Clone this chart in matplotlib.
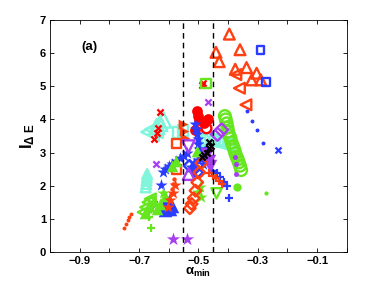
import matplotlib
matplotlib.use('Agg')
import matplotlib.pyplot as plt

plt.rcParams['font.family'] = ['Liberation Sans', 'DejaVu Sans']
plt.rcParams['mathtext.fontset'] = 'custom'
plt.rcParams['mathtext.rm'] = 'Liberation Sans:bold'
plt.rcParams['mathtext.bf'] = 'Liberation Sans:bold'
plt.rcParams['mathtext.it'] = 'Liberation Sans:bold'

# Colours used by the series
ORANGE = '#ff4012'
RED = '#ff0000'
BLUE = '#2a3cff'
GREEN = '#66e61e'
CYAN = '#80f5dc'
PURPLE = '#a63ef0'
BLACK = '#000000'

# Dashed threshold lines
alpha_lo = -0.552
alpha_hi = -0.452

# Series: (x values, y values, marker, colour, size, filled)
tri_up_orange_x = [-0.396, -0.441, -0.360, -0.430, -0.376, -0.338, -0.304, -0.321, -0.290]
tri_up_orange_y = [6.57, 6.02, 6.10, 5.74, 5.51, 5.56, 5.39, 5.19, 5.19]

tri_left_orange_x = [-0.374, -0.362, -0.340]
tri_left_orange_y = [5.35, 4.94, 4.44]

sq_blue_x = [-0.291, -0.273]
sq_blue_y = [6.10, 5.13]

dot_blue_x = [-0.338, -0.321, -0.302, -0.284]
dot_blue_y = [4.24, 3.96, 3.68, 3.28]

x_blue_x = [-0.233]
x_blue_y = [3.09]

circ_green_x = [-0.411, -0.408, -0.405, -0.402, -0.400, -0.396, -0.392, -0.388, -0.383, -0.379,
                -0.376, -0.372, -0.368, -0.364, -0.360, -0.356]
circ_green_y = [4.10, 4.00, 3.88, 3.75, 3.63, 3.52, 3.43, 3.30, 3.18, 3.08, 2.98, 2.88, 2.80,
                2.70, 2.60, 2.47]

dotc_green_x = [-0.371]
dotc_green_y = [1.97]

circ_cyan_x = [-0.482, -0.470, -0.458, -0.446, -0.434, -0.422, -0.410, -0.398, -0.390]
circ_cyan_y = [3.36, 3.40, 3.42, 3.38, 3.35, 3.33, 3.30, 3.27, 3.25]

tri_left_cyan_x = [-0.663, -0.650]
tri_left_cyan_y = [3.62, 3.70]
tri_up_cyan_x = [-0.641, -0.630, -0.618]
tri_up_cyan_y = [3.78, 3.88, 3.98]
sq_cyan_x = [-0.568, -0.553]
sq_cyan_y = [3.60, 3.66]
tri_cyan_col_x = [-0.678, -0.676, -0.675, -0.674, -0.673]
tri_cyan_col_y = [1.95, 2.05, 2.15, 2.25, 2.35]

circf_red_x = [-0.506, -0.503, -0.497, -0.467, -0.512, -0.480]
circf_red_y = [4.24, 4.10, 3.98, 4.01, 3.68, 3.90]
circo_red_x = [-0.473]
circo_red_y = [3.73]

x_red_x = [-0.630, -0.641, -0.649, -0.636, -0.489, -0.485]
x_red_y = [4.21, 3.60, 3.40, 3.75, 5.04, 5.10]

sq_green_x = [-0.475]
sq_green_y = [5.09]

x_purple_x = [-0.467, -0.643, -0.660]
x_purple_y = [4.53, 2.65, 1.30]

sq_orange_x = [-0.574, -0.573]
sq_orange_y = [3.28, 2.49]

tri_right_orange_x = [-0.553, -0.548, -0.545]
tri_right_orange_y = [3.85, 3.65, 3.45]

tri_down_purple_x = [-0.534]
tri_down_purple_y = [3.18]
tri_up_purple_x = [-0.533]
tri_up_purple_y = [2.35]
dia_purple_x = [-0.422, -0.436]
dia_purple_y = [3.68, 3.55]
tri_down_purple_f_x = [-0.472, -0.466, -0.460]
tri_down_purple_f_y = [2.95, 2.75, 2.60]

star_blue_x = [-0.626, -0.621, -0.612, -0.600, -0.588, -0.575, -0.562, -0.550, -0.538,
               -0.510, -0.507, -0.505, -0.503, -0.500, -0.497, -0.493, -0.490, -0.486,
               -0.525, -0.515, -0.500, -0.488, -0.480, -0.474]
star_blue_y = [2.02, 2.42, 2.50, 2.58, 2.66, 2.74, 2.82, 2.90, 2.98,
               3.85, 3.70, 3.55, 3.40, 3.25, 3.10, 2.95, 2.80, 2.65,
               2.55, 2.68, 2.78, 2.90, 3.02, 3.12]

tri_blue_x = [-0.618, -0.608, -0.600, -0.612, -0.595, -0.590]
tri_blue_y = [1.35, 1.45, 1.55, 1.28, 1.30, 1.40]

plus_blue_x = [-0.439, -0.428, -0.415, -0.405, -0.398, -0.455, -0.650, -0.660]
plus_blue_y = [2.37, 2.25, 2.12, 1.98, 1.64, 2.45, 1.50, 1.38]

dia_blue_x = [-0.530, -0.515, -0.505]
dia_blue_y = [2.60, 2.50, 2.40]

x_black_x = [-0.465, -0.464, -0.472, -0.487, -0.480, -0.458]
x_black_y = [3.33, 3.13, 2.98, 2.86, 2.92, 3.20]

star_green_x = [-0.495, -0.490, -0.500, -0.618]
star_green_y = [1.97, 1.67, 1.80, 1.78]
tri_down_green_x = [-0.439]
tri_down_green_y = [1.77]
tri_up_green_x = [-0.505, -0.575, -0.590, -0.680, -0.665, -0.650, -0.640, -0.628, -0.612]
tri_up_green_y = [3.05, 2.75, 2.60, 1.17, 1.40, 1.55, 1.30, 1.45, 1.70]
tri_left_green_x = [-0.686, -0.678, -0.670, -0.662]
tri_left_green_y = [1.20, 1.35, 1.50, 1.60]

dia_orange_x = [-0.529, -0.523, -0.516, -0.510, -0.504, -0.497, -0.490]
dia_orange_y = [1.32, 1.45, 1.62, 1.85, 2.10, 2.40, 2.68]
star_orange_x = [-0.579, -0.585, -0.596, -0.602]
star_orange_y = [2.02, 1.78, 1.57, 1.35]
plus_orange_x = [-0.464, -0.450, -0.440, -0.430, -0.420]
plus_orange_y = [2.37, 2.30, 2.22, 2.15, 2.05]
dot_orange_x = [-0.751, -0.745, -0.739, -0.733, -0.728]
dot_orange_y = [0.73, 0.85, 0.96, 1.06, 1.15]
dot_orange2_x = [-0.598, -0.594, -0.590, -0.586, -0.582]
dot_orange2_y = [1.60, 1.75, 1.90, 2.05, 2.20]

plus_green_x = [-0.660, -0.668]
plus_green_y = [0.73, 1.05]
star_purple_x = [-0.585, -0.538]
star_purple_y = [0.38, 0.38]
dot_purple_x = [-0.375, -0.372, -0.378]
dot_purple_y = [2.65, 2.35, 2.85]
dot_green_x = [-0.274]
dot_green_y = [1.79]

series = [
    (tri_cyan_col_x, tri_cyan_col_y, '^', CYAN, 50, False),
    (tri_left_cyan_x, tri_left_cyan_y, '<', CYAN, 160, False),
    (tri_up_cyan_x, tri_up_cyan_y, '^', CYAN, 120, False),
    (sq_cyan_x, sq_cyan_y, 's', CYAN, 55, False),
    (circ_cyan_x, circ_cyan_y, 'o', CYAN, 70, False),
    (tri_up_orange_x, tri_up_orange_y, '^', ORANGE, 60, False),
    (tri_left_orange_x, tri_left_orange_y, '<', ORANGE, 60, False),
    (sq_blue_x, sq_blue_y, 's', BLUE, 30, False),
    (dot_blue_x, dot_blue_y, '.', BLUE, 6, True),
    (x_blue_x, x_blue_y, 'x', BLUE, 18, True),
    (circ_green_x, circ_green_y, 'o', GREEN, 70, False),
    (dotc_green_x, dotc_green_y, 'o', GREEN, 35, True),
    (circf_red_x, circf_red_y, 'o', RED, 60, True),
    (circo_red_x, circo_red_y, 'o', RED, 50, False),
    (x_red_x, x_red_y, 'x', RED, 20, True),
    (sq_green_x, sq_green_y, 's', GREEN, 45, False),
    (x_purple_x, x_purple_y, 'x', PURPLE, 20, True),
    (sq_orange_x, sq_orange_y, 's', ORANGE, 45, False),
    (tri_right_orange_x, tri_right_orange_y, '>', ORANGE, 50, True),
    (star_blue_x, star_blue_y, '*', BLUE, 85, True),
    (tri_blue_x, tri_blue_y, '^', BLUE, 95, True),
    (plus_blue_x, plus_blue_y, '+', BLUE, 35, True),
    (dia_blue_x, dia_blue_y, 'D', BLUE, 35, False),
    (tri_down_purple_x, tri_down_purple_y, 'v', PURPLE, 80, False),
    (tri_up_purple_x, tri_up_purple_y, '^', PURPLE, 70, False),
    (dia_purple_x, dia_purple_y, 'D', PURPLE, 45, False),
    (tri_down_purple_f_x, tri_down_purple_f_y, 'v', PURPLE, 95, True),
    (star_green_x, star_green_y, '*', GREEN, 85, True),
    (tri_down_green_x, tri_down_green_y, 'v', GREEN, 55, False),
    (tri_up_green_x, tri_up_green_y, '^', GREEN, 70, True),
    (tri_left_green_x, tri_left_green_y, '<', GREEN, 60, False),
    (dia_orange_x, dia_orange_y, 'D', ORANGE, 35, False),
    (star_orange_x, star_orange_y, '*', ORANGE, 85, True),
    (plus_orange_x, plus_orange_y, '+', ORANGE, 35, True),
    (dot_orange_x, dot_orange_y, '.', ORANGE, 6, True),
    (dot_orange2_x, dot_orange2_y, '.', ORANGE, 10, True),
    (x_black_x, x_black_y, 'x', BLACK, 20, True),
    (plus_green_x, plus_green_y, '+', GREEN, 40, True),
    (star_purple_x, star_purple_y, '*', PURPLE, 100, True),
    (dot_purple_x, dot_purple_y, '.', PURPLE, 15, True),
    (dot_green_x, dot_green_y, '.', GREEN, 8, True),
]

fig = plt.figure(figsize=(3.82, 2.88), dpi=100)
ax = fig.add_axes([0.131, 0.125, 0.777, 0.806])

for xs, ys, mk, col, size, filled in series:
    if mk in ('x', '+', '.'):
        ax.scatter(xs, ys, marker=mk, s=size, c=col, linewidths=1.6, zorder=2)
    elif filled:
        ax.scatter(xs, ys, marker=mk, s=size, c=col, linewidths=0, zorder=2)
    else:
        ax.scatter(xs, ys, marker=mk, s=size, facecolors='none', edgecolors=col,
                   linewidths=1.7, zorder=2)

ax.axvline(alpha_lo, color='k', linestyle=(0, (4, 3)), linewidth=1.0, zorder=3)
ax.axvline(alpha_hi, color='k', linestyle=(0, (4, 3)), linewidth=1.0, zorder=3)

ax.set_xlim(-1, 0)
ax.set_ylim(0, 7)
xt = [-1.0, -0.9, -0.8, -0.7, -0.6, -0.5, -0.4, -0.3, -0.2, -0.1, 0.0]
ax.set_xticks(xt)
ax.set_xticklabels(['', '\u22120.9', '', '\u22120.7', '', '\u22120.5', '', '\u22120.3', '',
                    '\u22120.1', ''])
ax.set_yticks(range(8))
ax.tick_params(direction='in', top=True, right=True, length=3, width=0.6,
               labelsize=8, pad=3)
for lab in ax.get_xticklabels() + ax.get_yticklabels():
    lab.set_fontweight('bold')
for sp in ax.spines.values():
    sp.set_linewidth(0.6)

ax.set_xlabel(r'$\alpha_{\mathrm{min}}$', fontsize=9.5, labelpad=0)
ax.set_ylabel(r'$\mathrm{I}_{\Delta\ \mathrm{E}}$', fontsize=12, labelpad=2)
ax.text(0.105, 0.87, '(a)', transform=ax.transAxes, fontsize=9.5, fontweight='bold')

fig.savefig('out.png', dpi=100)
